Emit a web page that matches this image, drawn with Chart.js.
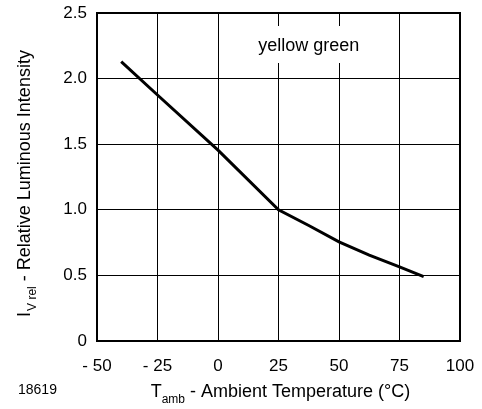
<!DOCTYPE html>
<html>
<head>
<meta charset="utf-8">
<script src="https://cdn.jsdelivr.net/npm/chart.js@4/dist/chart.umd.min.js"></script>
<style>
html,body{margin:0;padding:0;background:#fff;}
#c{display:block;}
</style>
</head>
<body>
<canvas id="c" width="482" height="409"></canvas>
<script>
const temperatures = [-40, -25, 0, 25, 37.5, 50, 62.5, 75, 85];
const intensities  = [2.13, 1.875, 1.455, 1.0, 0.88, 0.756, 0.655, 0.565, 0.49];
const xTickValues = [-50, -25, 0, 25, 50, 75, 100];
const xTickLabels = ['- 50', '- 25', '0', '25', '50', '75', '100'];
const yTickValues = [0, 0.5, 1.0, 1.5, 2.0, 2.5];
const yTickLabels = ['0', '0.5', '1.0', '1.5', '2.0', '2.5'];
const seriesName = 'yellow green';
const figureId = '18619';

const FONT = '"Liberation Sans", Arial, Helvetica, sans-serif';

const points = temperatures.map((t, i) => ({x: t, y: intensities[i]}));

const decor = {
  id: 'decor',
  afterDraw(chart) {
    const ctx = chart.ctx;
    const a = chart.chartArea;
    const xs = chart.scales.x;
    ctx.save();
    // frame
    ctx.strokeStyle = '#000';
    ctx.lineWidth = 2;
    ctx.strokeRect(a.left, a.top, a.right - a.left, a.bottom - a.top);
    // legend text with white box
    const cx = xs.getPixelForValue(37.5);
    ctx.font = '18px ' + FONT;
    const w = ctx.measureText(seriesName).width;
    ctx.fillStyle = '#fff';
    ctx.fillRect(cx - w / 2 - 5, 26, w + 10, 37);
    ctx.fillStyle = '#000';
    ctx.textAlign = 'center';
    ctx.textBaseline = 'middle';
    ctx.fillText(seriesName, cx, 46);

    // x title with subscript
    const midX = (a.left + a.right) / 2;
    ctx.font = '18px ' + FONT;
    const t1 = 'T', sub = 'amb', t2 = ' - Ambient Temperature (°C)';
    const w1 = ctx.measureText(t1).width;
    const w3 = ctx.measureText(t2).width;
    ctx.font = '12px ' + FONT;
    const w2 = ctx.measureText(sub).width;
    const total = w1 + w2 + w3;
    let x0 = midX - total / 2 + 2;
    const by = 397;
    ctx.textAlign = 'left';
    ctx.textBaseline = 'alphabetic';
    ctx.font = '18px ' + FONT;
    ctx.fillText(t1, x0, by);
    ctx.font = '12px ' + FONT;
    ctx.fillText(sub, x0 + w1, by + 6);
    ctx.font = '18px ' + FONT;
    ctx.fillText(t2, x0 + w1 + w2, by);

    // figure id
    ctx.font = '14px ' + FONT;
    ctx.fillText(figureId, 18, 394);

    // y title rotated with subscript
    ctx.translate(30, (a.top + a.bottom) / 2 + 7);
    ctx.rotate(-Math.PI / 2);
    ctx.font = '18px ' + FONT;
    const y1 = 'I', ysub = 'V rel', y2 = ' - Relative Luminous Intensity';
    const v1 = ctx.measureText(y1).width;
    const v3 = ctx.measureText(y2).width;
    ctx.font = '12px ' + FONT;
    const v2 = ctx.measureText(ysub).width;
    let s0 = -(v1 + v2 + v3) / 2;
    ctx.font = '18px ' + FONT;
    ctx.fillText(y1, s0, 0);
    ctx.font = '12px ' + FONT;
    ctx.fillText(ysub, s0 + v1 + 1, 6);
    ctx.font = '18px ' + FONT;
    ctx.fillText(y2, s0 + v1 + v2 + 1, 0);
    ctx.restore();
  }
};

new Chart(document.getElementById('c'), {
  type: 'scatter',
  data: {
    datasets: [{
      label: seriesName,
      data: points,
      showLine: true,
      borderColor: '#000',
      borderWidth: 3,
      pointRadius: 0,
      tension: 0,
      fill: false
    }]
  },
  options: {
    responsive: false,
    animation: false,
    devicePixelRatio: 1,
    layout: {padding: {left: 0, right: 22, top: 13, bottom: 0}},
    plugins: {legend: {display: false}, tooltip: {enabled: false}},
    scales: {
      x: {
        type: 'linear',
        min: -50, max: 100,
        afterBuildTicks: s => { s.ticks = xTickValues.map(v => ({value: v})); },
        afterFit: s => { s.height = 68; s.paddingLeft = 0; s.paddingRight = 0; },
        ticks: {
          color: '#000',
          font: {family: FONT, size: 17},
          padding: 15,
          maxRotation: 0,
          callback: (v) => xTickLabels[xTickValues.indexOf(v)]
        },
        grid: {color: '#000', lineWidth: 1, drawTicks: false},
        border: {color: '#000', width: 2}
      },
      y: {
        type: 'linear',
        min: 0, max: 2.5,
        afterBuildTicks: s => { s.ticks = yTickValues.map(v => ({value: v})); },
        afterFit: s => { s.width = 97; s.paddingTop = 0; s.paddingBottom = 0; },
        ticks: {
          color: '#000',
          font: {family: FONT, size: 17},
          padding: 10,
          callback: (v) => yTickLabels[yTickValues.indexOf(v)]
        },
        grid: {color: '#000', lineWidth: 1, drawTicks: false},
        border: {color: '#000', width: 2}
      }
    }
  },
  plugins: [decor]
});
</script>
</body>
</html>
